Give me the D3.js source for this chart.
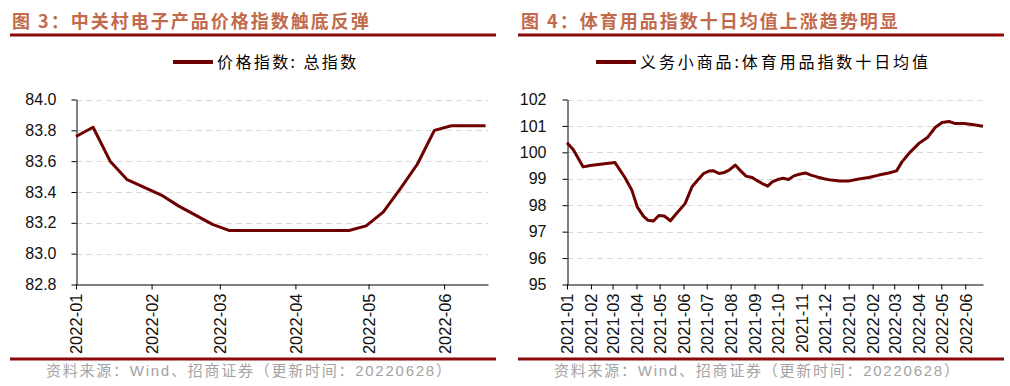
<!DOCTYPE html>
<html>
<head>
<meta charset="utf-8">
<script src="https://cdn.jsdelivr.net/npm/d3@7"></script>
<style>
  body { margin: 0; background: #fff; }
  svg { display: block; }
</style>
</head>
<body>
<svg id="chart"></svg>
<script>
// Left chart: 中关村电子产品价格指数 (weekly)
const leftDates = [
	"2022-01-01", "2022-01-08", "2022-01-15", "2022-01-22", "2022-01-29",
	"2022-02-05", "2022-02-12", "2022-02-19", "2022-02-26", "2022-03-05",
	"2022-03-12", "2022-03-19", "2022-03-26", "2022-04-02", "2022-04-09",
	"2022-04-16", "2022-04-23", "2022-04-30", "2022-05-07", "2022-05-14",
	"2022-05-21", "2022-05-28", "2022-06-04", "2022-06-11", "2022-06-18"
];
const leftValues = [
	83.76, 83.82, 83.60, 83.48, 83.43,
	83.38, 83.31, 83.25, 83.19, 83.15,
	83.15, 83.15, 83.15, 83.15, 83.15,
	83.15, 83.15, 83.18, 83.27, 83.42,
	83.58, 83.80, 83.83, 83.83, 83.83
];
const leftYTicks = [82.8, 83.0, 83.2, 83.4, 83.6, 83.8, 84.0];

// Right chart: 义务小商品 体育用品指数十日均值
const rightDates = [
	"2021-01-01", "2021-01-09", "2021-01-22", "2021-01-31", "2021-03-04",
	"2021-03-17", "2021-03-26", "2021-04-02", "2021-04-10", "2021-04-16",
	"2021-04-23", "2021-04-30", "2021-05-07", "2021-05-15", "2021-05-22",
	"2021-06-03", "2021-06-12", "2021-06-20", "2021-06-27", "2021-07-04",
	"2021-07-10", "2021-07-17", "2021-07-24", "2021-07-30", "2021-08-07",
	"2021-08-14", "2021-08-21", "2021-08-29", "2021-09-05", "2021-09-11",
	"2021-09-18", "2021-09-24", "2021-10-01", "2021-10-08", "2021-10-15",
	"2021-10-22", "2021-10-29", "2021-11-06", "2021-11-13", "2021-11-21",
	"2021-11-30", "2021-12-09", "2021-12-20", "2022-01-02", "2022-01-14",
	"2022-01-27", "2022-02-09", "2022-02-22", "2022-03-04", "2022-03-11",
	"2022-03-22", "2022-04-02", "2022-04-13", "2022-04-23", "2022-05-02",
	"2022-05-11", "2022-05-19", "2022-05-30", "2022-06-10", "2022-06-24"
];
const rightValues = [
	100.36, 100.11, 99.45, 99.50, 99.62,
	99.05, 98.57, 97.94, 97.59, 97.43,
	97.40, 97.61, 97.59, 97.41, 97.66,
	98.06, 98.70, 98.97, 99.20, 99.29,
	99.30, 99.20, 99.24, 99.33, 99.52,
	99.30, 99.10, 99.05, 98.92, 98.82,
	98.72, 98.88, 98.97, 99.02, 98.97,
	99.11, 99.17, 99.22, 99.14, 99.07,
	99.00, 98.95, 98.92, 98.92, 98.99,
	99.05, 99.14, 99.22, 99.30, 99.64,
	100.02, 100.34, 100.56, 100.94, 101.13,
	101.17, 101.09, 101.09, 101.05, 100.99
];
const rightYTicks = [95, 96, 97, 98, 99, 100, 101, 102];

const titles = ["图 3：中关村电子产品价格指数触底反弹", "图 4：体育用品指数十日均值上涨趋势明显"];
const legendLabels = ["价格指数: 总指数", "义务小商品:体育用品指数十日均值"];
const sourceText = "资料来源：Wind、招商证券（更新时间：20220628）";

const width = 1010, height = 386;
const lineColor = "#6e0000";
const ruleColor = "#8c0a0a";
const titleColor = "#c26a4b";
const parseDate = d3.timeParse("%Y-%m-%d");

const svg = d3.select("#chart").attr("width", width).attr("height", height);

function drawPanel(cfg) {
	const g = svg.append("g");
	const data = cfg.dates.map((d, i) => ({date: parseDate(d), value: cfg.values[i]}));

	// title and rules
	g.append("text")
		.attr("x", cfg.titleX).attr("y", 28)
		.attr("fill", titleColor)
		.style("font-family", "'Noto Sans CJK SC', sans-serif")
		.style("font-size", "18px")
		.style("font-weight", "bold")
		.style("letter-spacing", "2px")
		.text(cfg.title);
	g.append("line")
		.attr("x1", cfg.ruleX[0]).attr("x2", cfg.ruleX[1])
		.attr("y1", 35).attr("y2", 35)
		.attr("stroke", ruleColor).attr("stroke-width", 3);
	g.append("line")
		.attr("x1", cfg.ruleX[0]).attr("x2", cfg.ruleX[1])
		.attr("y1", 359).attr("y2", 359)
		.attr("stroke", ruleColor).attr("stroke-width", 3);

	// legend
	g.append("line")
		.attr("x1", cfg.legendX).attr("x2", cfg.legendX + 40)
		.attr("y1", 62).attr("y2", 62)
		.attr("stroke", lineColor).attr("stroke-width", 4);
	g.append("text")
		.attr("x", cfg.legendX + 44).attr("y", 68)
		.attr("fill", "#000")
		.style("font-family", "'Noto Sans CJK SC', sans-serif")
		.style("font-size", "16px")
		.style("letter-spacing", cfg.legendSpacing)
		.text(cfg.legend);

	// source
	g.append("text")
		.attr("x", cfg.sourceX).attr("y", 376)
		.attr("fill", "#a3a3a3")
		.style("font-family", "'Liberation Sans', 'Noto Sans CJK SC', sans-serif")
		.style("font-size", "15px")
		.style("letter-spacing", "1.75px")
		.text(sourceText);

	const x = d3.scaleTime()
		.domain([parseDate(cfg.xDomain[0]), parseDate(cfg.xDomain[1])])
		.range([cfg.left, cfg.right]);
	const y = d3.scaleLinear()
		.domain(d3.extent(cfg.yTicks))
		.range([284.5, 99.5]);

	// grid
	g.append("g").selectAll("line")
		.data(cfg.yTicks.slice(1))
		.join("line")
		.attr("x1", cfg.left).attr("x2", cfg.right)
		.attr("y1", d => Math.round(y(d)) + 0.5).attr("y2", d => Math.round(y(d)) + 0.5)
		.attr("stroke", "#d9d9d9").attr("stroke-dasharray", "6,4");

	// y-axis
	g.append("g")
		.attr("transform", `translate(${cfg.left + 0.5}, 0)`)
		.call(d3.axisLeft(y).tickValues(cfg.yTicks).tickFormat(cfg.yFormat)
			.tickSize(5).tickSizeOuter(0).tickPadding(cfg.yPad))
		.call(a => a.selectAll("text")
			.attr("fill", "#111")
			.style("font-family", "'Liberation Sans', Arial, sans-serif")
			.style("font-size", "16px"));

	// x-axis
	g.append("g")
		.attr("transform", `translate(0, 284.5)`)
		.call(d3.axisBottom(x).ticks(d3.timeMonth.every(1)).tickFormat(d3.timeFormat("%Y-%m"))
			.tickSize(5).tickSizeOuter(0))
		.call(a => a.selectAll("text")
			.attr("transform", "rotate(-90)")
			.attr("x", -9).attr("y", 0).attr("dy", "0.36em")
			.style("text-anchor", "end")
			.attr("fill", "#111")
			.style("font-family", "'Liberation Sans', Arial, sans-serif")
			.style("font-size", "16.5px"));

	// series
	g.append("path")
		.datum(data)
		.attr("fill", "none")
		.attr("stroke", lineColor)
		.attr("stroke-width", 3)
		.attr("stroke-linejoin", "round")
		.attr("d", d3.line().x(d => x(d.date)).y(d => y(d.value)));
}

drawPanel({
	title: titles[0], titleX: 12, ruleX: [10, 496],
	legend: legendLabels[0], legendX: 173, legendSpacing: "2.4px", sourceX: 46,
	dates: leftDates, values: leftValues, yTicks: leftYTicks,
	yFormat: d3.format(".1f"), yPad: 15,
	xDomain: ["2022-01-01", "2022-06-19"], left: 76, right: 488
});

drawPanel({
	title: titles[1], titleX: 521, ruleX: [518, 1004],
	legend: legendLabels[1], legendX: 596, legendSpacing: "2.9px", sourceX: 554,
	dates: rightDates, values: rightValues, yTicks: rightYTicks,
	yFormat: d3.format("d"), yPad: 16,
	xDomain: ["2021-01-01", "2022-06-24"], left: 567, right: 983
});
</script>
</body>
</html>
